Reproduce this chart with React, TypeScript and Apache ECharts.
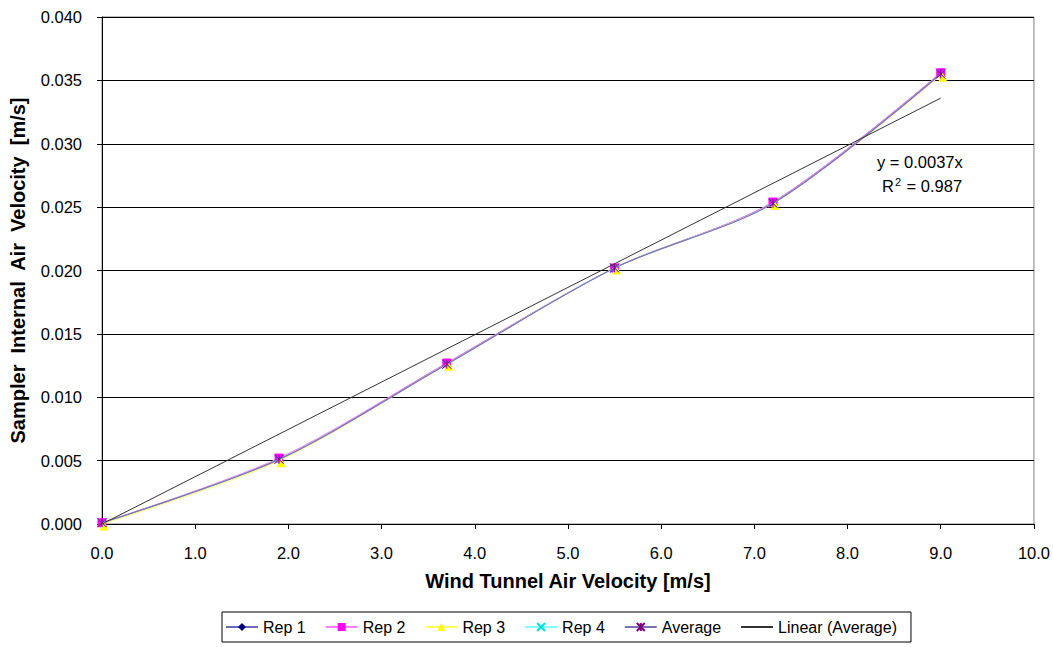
import React, { useEffect, useRef } from "react";
import * as echarts from "echarts";

const xValues = [0, 1.9, 3.7, 5.5, 7.2, 9.0];
const rep1 = [0.0001, 0.0051, 0.0127, 0.0202, 0.0254, 0.0356];
const rep2 = [0.0001, 0.0052, 0.0127, 0.0202, 0.0254, 0.0356];
const rep3 = [0.0, 0.0050, 0.0126, 0.0202, 0.0253, 0.0354];
const rep4 = [0.0001, 0.0051, 0.0126, 0.0202, 0.0253, 0.0355];
const average = [0.0001, 0.0051, 0.0126, 0.0202, 0.0253, 0.0355];
const trendX = [0, 9.0];
const trendY = [0, 0.0336];
const trendLabel = "y = 0.0037x";
const r2Value = "0.987";

const FONT = "'Liberation Sans', Arial, sans-serif";

const pairs = (ys: number[]) => xValues.map((x, i) => [x, ys[i]]);

export default function App() {
  const ref = useRef<HTMLDivElement>(null);
  useEffect(() => {
    document.body.style.margin = "0";
    const chart = echarts.init(ref.current!, null, { renderer: "svg" });
    const xSym = "path://M0,0L10,10M10,0L0,10";
    const starSym = "path://M5,0L5,10M0,0L10,10M10,0L0,10";
    chart.setOption({
      animation: false,
      backgroundColor: "#fff",
      textStyle: { fontFamily: FONT },
      grid: {
        left: 99,
        right: 19,
        top: 17,
        bottom: 123,
        show: true,
        borderColor: "#808080",
        borderWidth: 1,
      },
      xAxis: {
        type: "value",
        min: 0,
        max: 10,
        interval: 1,
        name: "Wind Tunnel Air Velocity [m/s]",
        nameLocation: "middle",
        nameGap: 47,
        nameTextStyle: { fontFamily: FONT, fontSize: 20, fontWeight: "bold", color: "#000" },
        axisLine: { lineStyle: { color: "#000", width: 1 } },
        axisTick: { show: true, length: 5, lineStyle: { color: "#000" } },
        axisLabel: {
          margin: 20,
          fontSize: 16.5,
          color: "#000",
          fontFamily: FONT,
          formatter: (v: number) => v.toFixed(1),
        },
        splitLine: { show: false },
      },
      yAxis: {
        type: "value",
        min: 0,
        max: 0.04,
        interval: 0.005,
        name: "Sampler\u00a0 Internal\u00a0 Air\u00a0 Velocity\u00a0 [m/s]",
        nameLocation: "middle",
        nameGap: 74,
        nameTextStyle: { fontFamily: FONT, fontSize: 20, fontWeight: "bold", color: "#000" },
        axisLine: { show: true, lineStyle: { color: "#000", width: 1 } },
        axisTick: { show: true, length: 5, lineStyle: { color: "#000" } },
        axisLabel: {
          margin: 20,
          fontSize: 16.5,
          color: "#000",
          fontFamily: FONT,
          formatter: (v: number) => v.toFixed(3),
        },
        splitLine: { show: true, lineStyle: { color: "#000", width: 1 } },
      },
      legend: {
        left: 222,
        top: 612,
        orient: "horizontal",
        borderColor: "#000",
        borderWidth: 1,
        padding: [7, 14, 7, 3],
        itemGap: 19,
        itemWidth: 32,
        itemHeight: 10,
        textStyle: { fontFamily: FONT, fontSize: 16, color: "#000" },
        data: ["Rep 1", "Rep 2", "Rep 3", "Rep 4", "Average", "Linear (Average)"],
      },
      graphic: [
        {
          type: "text",
          left: 877,
          top: 153,
          style: {
            text: trendLabel,
            fontFamily: FONT,
            fontSize: 16.5,
            fill: "#000",
          },
          z: 100,
        },
        {
          type: "text",
          left: 882,
          top: 176,
          style: {
            text: "R{sup|2} = " + r2Value,
            fontFamily: FONT,
            fontSize: 16.5,
            fill: "#000",
            rich: {
              sup: { fontSize: 11, verticalAlign: "top", padding: [0, 1, 9, 1], fontFamily: FONT },
            },
          },
          z: 100,
        },
      ],
      series: [
        {
          name: "Rep 1",
          type: "line",
          data: pairs(rep1),
          smooth: 0.3,
          symbol: "diamond",
          symbolSize: 8,
          lineStyle: { color: "#6a6ab8", width: 1 },
          itemStyle: { color: "#000080" },
          z: 2,
        },
        {
          name: "Rep 2",
          type: "line",
          data: pairs(rep2),
          smooth: 0.3,
          symbol: "rect",
          symbolSize: 9,
          lineStyle: { color: "#ff80ff", width: 1 },
          itemStyle: { color: "#ff00ff" },
          z: 3,
        },
        {
          name: "Rep 3",
          type: "line",
          data: pairs(rep3),
          smooth: 0.3,
          symbol: "triangle",
          symbolSize: 9,
          lineStyle: { color: "#ffff60", width: 1 },
          itemStyle: { color: "#ffff00" },
          symbolOffset: [2, 2],
          z: 4,
        },
        {
          name: "Rep 4",
          type: "line",
          data: pairs(rep4),
          smooth: 0.3,
          symbol: xSym,
          symbolSize: 8,
          lineStyle: { color: "#80ffff", width: 1 },
          itemStyle: { color: "none", borderColor: "#00e0e0", borderWidth: 1 },
          z: 5,
        },
        {
          name: "Average",
          type: "line",
          data: pairs(average),
          smooth: 0.3,
          symbol: starSym,
          symbolSize: 9,
          lineStyle: { color: "#7b70b4", width: 1.25 },
          itemStyle: { color: "none", borderColor: "#800080", borderWidth: 1 },
          z: 6,
        },
        {
          name: "Linear (Average)",
          type: "line",
          data: trendX.map((x, i) => [x, trendY[i]]),
          symbol: "none",
          showSymbol: false,
          lineStyle: { color: "#333", width: 1 },
          itemStyle: { color: "rgba(0,0,0,0)", opacity: 0 },
          z: 7,
        },
      ],
    });
    return () => chart.dispose();
  }, []);
  return (
    <div
      ref={ref}
      style={{ position: "absolute", left: 0, top: 0, width: 1053, height: 647 }}
    />
  );
}
